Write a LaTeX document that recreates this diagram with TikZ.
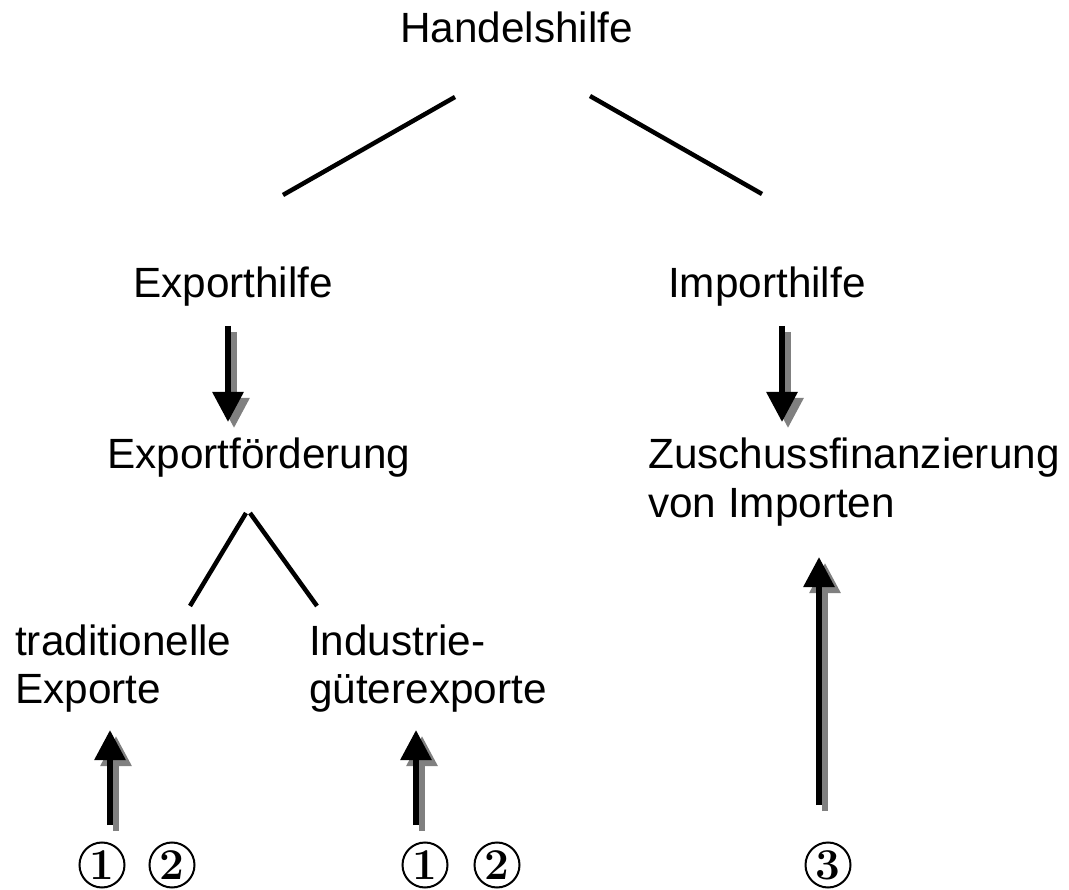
\documentclass[tikz,border=0pt]{standalone}
\usepackage{fontspec}
\setmainfont{Liberation Sans}
\newfontfamily\numfont{Latin Modern Roman}
\usetikzlibrary{arrows.meta}
\tikzset{
  lbl/.style={anchor=base west, inner sep=0pt, font=\fontsize{42.3}{50}\selectfont},
  treeline/.style={line width=4.5pt},
  arrblack/.style={line width=6pt, -{Triangle[width=30pt,length=30pt]}, black},
  arrshadow/.style={line width=6pt, -{Triangle[width=30pt,length=30pt]}, black!50},
  circnum/.style={circle, draw, line width=2pt, minimum size=45pt, inner sep=0pt,
    font=\numfont\bfseries\fontsize{44}{44}\selectfont}
}
\begin{document}
\begin{tikzpicture}[x=1pt, y=-1pt]
\useasboundingbox (0,0) rectangle (1069,890);
% texts
\node[lbl] (handel) at (400,43) {Handelshilfe};
\node[lbl] (exph) at (133,298) {Exporthilfe};
\node[lbl] (imph) at (668,298) {Importhilfe};
\node[lbl] (expf) at (107,469) {Exportförderung};
\node[lbl] (zus1) at (648,469) {Zuschussfinanzierung};
\node[lbl] (zus2) at (648,518) {von Importen};
\node[lbl] (trad1) at (15,655) {traditionelle};
\node[lbl] (trad2) at (15,703) {Exporte};
\node[lbl] (ind1) at (309,655) {Industrie-};
\node[lbl] (ind2) at (309,703) {güterexporte};
% tree lines
\coordinate (h1) at (455,97);
\coordinate (h2) at (283,195);
\coordinate (h3) at (590,96);
\coordinate (h4) at (762,194);
\coordinate (e1) at (246,513);
\coordinate (e1b) at (250,513);
\coordinate (e2) at (190,606);
\coordinate (e3) at (317,606);
\draw[treeline] (h1) -- (h2);
\draw[treeline] (h3) -- (h4);
\draw[treeline] (e1) -- (e2);
\draw[treeline] (e1b) -- (e3);
% arrows
\coordinate (ea1) at (228,326);
\coordinate (ea2) at (228,422);
\coordinate (ia1) at (782,326);
\coordinate (ia2) at (782,422);
\coordinate (ua1) at (110,825);
\coordinate (ua2) at (110,730);
\coordinate (ub1) at (416,825);
\coordinate (ub2) at (416,730);
\coordinate (uc1) at (819,805);
\coordinate (uc2) at (819,557);
\foreach \s/\t in {ea1/ea2, ia1/ia2, ua1/ua2, ub1/ub2, uc1/uc2}{
  \draw[arrshadow] ([xshift=6pt,yshift=-6pt]\s) -- ([xshift=6pt,yshift=-6pt]\t);
  \draw[arrblack] (\s) -- (\t);
}
% circled numbers
\node[circnum] (n1a) at (102,865) {1};
\node[circnum] (n2a) at (172,865) {2};
\node[circnum] (n1b) at (425,865) {1};
\node[circnum] (n2b) at (497,865) {2};
\node[circnum] (n3) at (828,865) {3};
\end{tikzpicture}
\end{document}
